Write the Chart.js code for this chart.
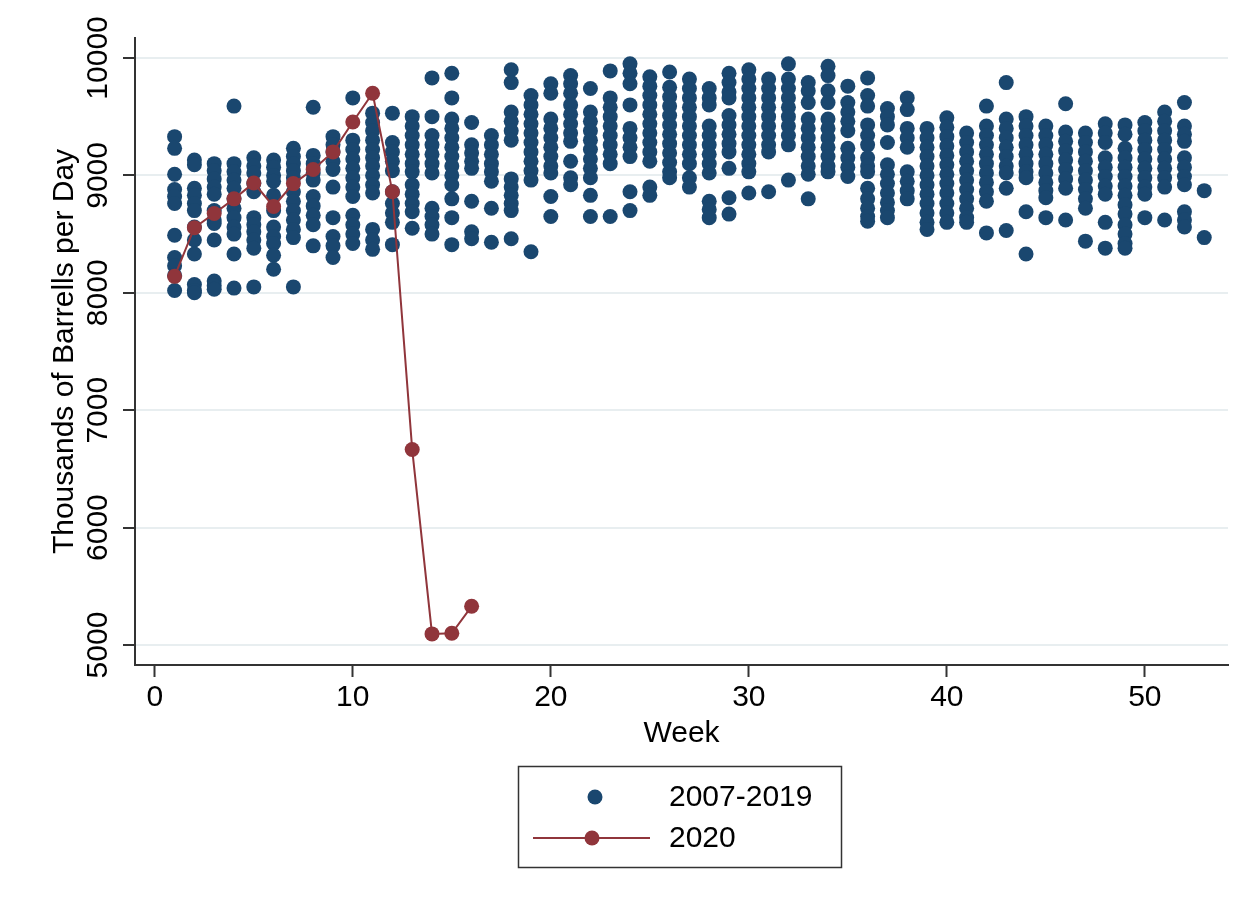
<!DOCTYPE html>
<html lang="en">
<head>
  <meta charset="UTF-8">
  <title>Weekly Product Supplied</title>
  <script src="https://cdn.jsdelivr.net/npm/chart.js"></script>
  <style>
    body {
      margin: 0;
      background-color: #ffffff;
    }
    canvas {
      display: block;
    }
  </style>
</head>
<body>
  <canvas id="oilChart" width="1257" height="907"></canvas>

  <script>
    // 2020 weekly values (thousands of barrels per day)
    const weeks2020 = [1, 2, 3, 4, 5, 6, 7, 8, 9, 10, 11, 12, 13, 14, 15, 16];
    const values2020 = [8140, 8555, 8675, 8800, 8935, 8735, 8930, 9050, 9200, 9455, 9700, 8860, 6665, 5095, 5100, 5330];

    // 2007-2019 values, one list per week (week 1 first)
    const hist2007to2019 = [
      [9330, 9230, 9010, 8880, 8820, 8760, 8490, 8300, 8230, 8150, 8020],
      [9130, 9090, 8890, 8830, 8760, 8700, 8560, 8450, 8330, 8070, 8020, 8000],
      [9100, 9040, 8970, 8900, 8840, 8700, 8620, 8590, 8450, 8100, 8060, 8030],
      [9590, 9100, 9030, 8960, 8890, 8800, 8720, 8640, 8560, 8500, 8330, 8040],
      [9150, 9080, 9020, 8930, 8860, 8640, 8580, 8520, 8450, 8380, 8050],
      [9130, 9070, 9000, 8950, 8830, 8700, 8560, 8480, 8420, 8320, 8200],
      [9230, 9160, 9100, 9040, 8980, 8860, 8780, 8700, 8620, 8540, 8470, 8050],
      [9580, 9170, 9100, 9020, 8960, 8820, 8740, 8660, 8580, 8400],
      [9330, 9260, 9200, 9120, 9050, 8900, 8640, 8480, 8400, 8300],
      [9660, 9300, 9220, 9140, 9060, 8980, 8900, 8820, 8660, 8580, 8500, 8420],
      [9530, 9450, 9380, 9300, 9220, 9150, 9080, 9000, 8920, 8850, 8540, 8450, 8370],
      [9530, 9280, 9200, 9120, 9040, 8860, 8760, 8680, 8600, 8410],
      [9500, 9420, 9340, 9260, 9180, 9100, 9030, 8920, 8840, 8760, 8690, 8550],
      [9830, 9500, 9340, 9260, 9180, 9100, 9020, 8720, 8650, 8580, 8500],
      [9870, 9660, 9480, 9400, 9320, 9240, 9160, 9080, 9000, 8920, 8800, 8640, 8410],
      [9450, 9260, 9190, 9120, 9060, 8780, 8520, 8460],
      [9340, 9260, 9180, 9100, 9030, 8950, 8720, 8430],
      [9900, 9790, 9540, 9460, 9380, 9300, 8970, 8900, 8830, 8760, 8700, 8460],
      [9680, 9600, 9520, 9440, 9360, 9280, 9200, 9120, 9040, 8960, 8350],
      [9780, 9700, 9480, 9400, 9320, 9240, 9160, 9080, 9020, 8820, 8650],
      [9850, 9780, 9700, 9600, 9520, 9440, 9360, 9290, 9120, 8980, 8920],
      [9740, 9540, 9460, 9380, 9300, 9220, 9140, 9060, 8980, 8830, 8650],
      [9890, 9660, 9580, 9500, 9420, 9340, 9260, 9180, 9100, 8650],
      [9950, 9870, 9780, 9600, 9400, 9320, 9240, 9160, 8860, 8700],
      [9840, 9760, 9680, 9600, 9520, 9440, 9360, 9280, 9200, 9120, 8900, 8830],
      [9880, 9750, 9670, 9590, 9510, 9430, 9350, 9270, 9190, 9110, 9030, 8980],
      [9820, 9740, 9660, 9580, 9500, 9420, 9340, 9260, 9180, 9100, 8980, 8900],
      [9740, 9660, 9600, 9420, 9340, 9260, 9180, 9100, 9020, 8780, 8710, 8640],
      [9870, 9790, 9710, 9660, 9510, 9430, 9350, 9270, 9200, 9060, 8810, 8670],
      [9900, 9820, 9740, 9660, 9580, 9500, 9420, 9340, 9260, 9180, 9100, 9030, 8850],
      [9820, 9740, 9660, 9580, 9500, 9420, 9340, 9260, 9200, 8860],
      [9950, 9820, 9740, 9660, 9580, 9500, 9420, 9340, 9260, 8960],
      [9790, 9720, 9620, 9480, 9400, 9320, 9240, 9160, 9080, 9010, 8800],
      [9930, 9850, 9720, 9620, 9480, 9400, 9320, 9240, 9160, 9080, 9030],
      [9760, 9620, 9540, 9460, 9380, 9230, 9150, 9070, 8990],
      [9830, 9680, 9590, 9430, 9340, 9260, 9150, 9080, 9030, 8890, 8800, 8720, 8650, 8610],
      [9570, 9500, 9430, 9280, 9090, 9010, 8930, 8850, 8770, 8700, 8640],
      [9660, 9560, 9400, 9320, 9240, 9030, 8950, 8870, 8800],
      [9400, 9320, 9240, 9160, 9080, 9000, 8920, 8840, 8760, 8680, 8600, 8540],
      [9490, 9410, 9330, 9250, 9170, 9090, 9010, 8930, 8850, 8760, 8680, 8600],
      [9360, 9280, 9200, 9120, 9040, 8960, 8880, 8800, 8720, 8640, 8600],
      [9590, 9420, 9340, 9260, 9180, 9100, 9020, 8940, 8860, 8780, 8510],
      [9790, 9480, 9400, 9320, 9240, 9160, 9080, 9020, 8890, 8530],
      [9500, 9420, 9340, 9260, 9180, 9100, 9030, 8980, 8690, 8330],
      [9420, 9340, 9260, 9180, 9100, 9020, 8940, 8870, 8810, 8640],
      [9610, 9370, 9290, 9210, 9130, 9050, 8970, 8890, 8620],
      [9360, 9280, 9200, 9120, 9040, 8960, 8880, 8800, 8720, 8440],
      [9440, 9360, 9280, 9150, 9070, 8990, 8910, 8840, 8600, 8380],
      [9430, 9350, 9230, 9150, 9070, 8990, 8910, 8830, 8750, 8670, 8580, 8500, 8420, 8380],
      [9450, 9380, 9300, 9220, 9140, 9060, 8980, 8900, 8840, 8640],
      [9540, 9460, 9380, 9300, 9220, 9140, 9060, 8980, 8900, 8620],
      [9620, 9420, 9350, 9290, 9150, 9070, 8990, 8920, 8690, 8620, 8560],
      [8870, 8470]
    ];

    const xTicks = [0, 10, 20, 30, 40, 50];
    const yTicks = [5000, 6000, 7000, 8000, 9000, 10000];
    const seriesLabels = ['2007-2019', '2020'];

    const NAVY = '#1a476f';
    const MAROON = '#90353b';
    const AXIS = '#333333';
    const FONT = '"Liberation Sans", Arial, Helvetica, sans-serif';

    const histData = [];
    hist2007to2019.forEach((vals, i) => {
      vals.forEach(v => histData.push({ x: i + 1, y: v }));
    });
    const data2020 = weeks2020.map((w, i) => ({ x: w, y: values2020[i] }));

    // y tick labels are vertical in the original, drawn here from the y scale
    const stataBits = {
      id: 'stataBits',
      afterDraw(chart) {
        const ctx = chart.ctx;
        const y = chart.scales.y;
        ctx.save();
        ctx.fillStyle = '#000';
        ctx.font = '30px ' + FONT;
        ctx.textAlign = 'center';
        ctx.textBaseline = 'middle';
        yTicks.forEach(v => {
          ctx.save();
          ctx.translate(99, y.getPixelForValue(v));
          ctx.rotate(-Math.PI / 2);
          ctx.fillText(String(v), 0, 0);
          ctx.restore();
        });

        // legend box
        ctx.strokeStyle = AXIS;
        ctx.lineWidth = 1.5;
        ctx.strokeRect(518.5, 766.5, 323, 101);

        ctx.fillStyle = NAVY;
        ctx.beginPath();
        ctx.arc(595, 797, 7.5, 0, Math.PI * 2);
        ctx.fill();

        ctx.strokeStyle = MAROON;
        ctx.lineWidth = 2;
        ctx.beginPath();
        ctx.moveTo(533, 838);
        ctx.lineTo(650, 838);
        ctx.stroke();
        ctx.fillStyle = MAROON;
        ctx.beginPath();
        ctx.arc(592, 838, 7.5, 0, Math.PI * 2);
        ctx.fill();

        ctx.fillStyle = '#000';
        ctx.textAlign = 'left';
        ctx.fillText(seriesLabels[0], 669, 798);
        ctx.fillText(seriesLabels[1], 669, 839);
        ctx.restore();
      }
    };

    new Chart(document.getElementById('oilChart'), {
      type: 'scatter',
      data: {
        datasets: [
          {
            label: seriesLabels[0],
            data: histData,
            backgroundColor: NAVY,
            borderColor: NAVY,
            pointRadius: 7.5,
            pointBorderWidth: 0,
            order: 2
          },
          {
            label: seriesLabels[1],
            data: data2020,
            showLine: true,
            backgroundColor: MAROON,
            borderColor: MAROON,
            borderWidth: 2,
            pointRadius: 7.5,
            pointBorderWidth: 0,
            order: 1
          }
        ]
      },
      options: {
        responsive: false,
        animation: false,
        layout: {
          padding: { left: 0, top: 38, right: 29, bottom: 155 }
        },
        plugins: {
          legend: { display: false },
          tooltip: { enabled: false }
        },
        scales: {
          x: {
            min: -1,
            max: 54.2,
            afterBuildTicks: s => { s.ticks = xTicks.map(v => ({ value: v })); },
            afterFit: s => { s.height = 87; },
            border: { color: AXIS, width: 2 },
            grid: {
              drawOnChartArea: false,
              tickLength: 12,
              tickColor: AXIS,
              tickWidth: 2
            },
            ticks: {
              color: '#000',
              padding: 3,
              maxRotation: 0,
              font: { family: FONT, size: 30 }
            },
            title: {
              display: true,
              text: 'Week',
              color: '#000',
              padding: { top: 0, bottom: 0 },
              font: { family: FONT, size: 30 }
            }
          },
          y: {
            min: 4830,
            max: 10170,
            afterBuildTicks: s => { s.ticks = yTicks.map(v => ({ value: v })); },
            afterFit: s => { s.width = 135; },
            border: { color: AXIS, width: 2 },
            grid: {
              color: '#e8eef0',
              lineWidth: 2,
              tickLength: 12,
              tickColor: AXIS,
              tickWidth: 2
            },
            ticks: { display: false },
            title: {
              display: true,
              text: 'Thousands of Barrells per Day',
              color: '#000',
              padding: { top: 47, bottom: 0 },
              font: { family: FONT, size: 30 }
            }
          }
        }
      },
      plugins: [stataBits]
    });
  </script>
</body>
</html>
